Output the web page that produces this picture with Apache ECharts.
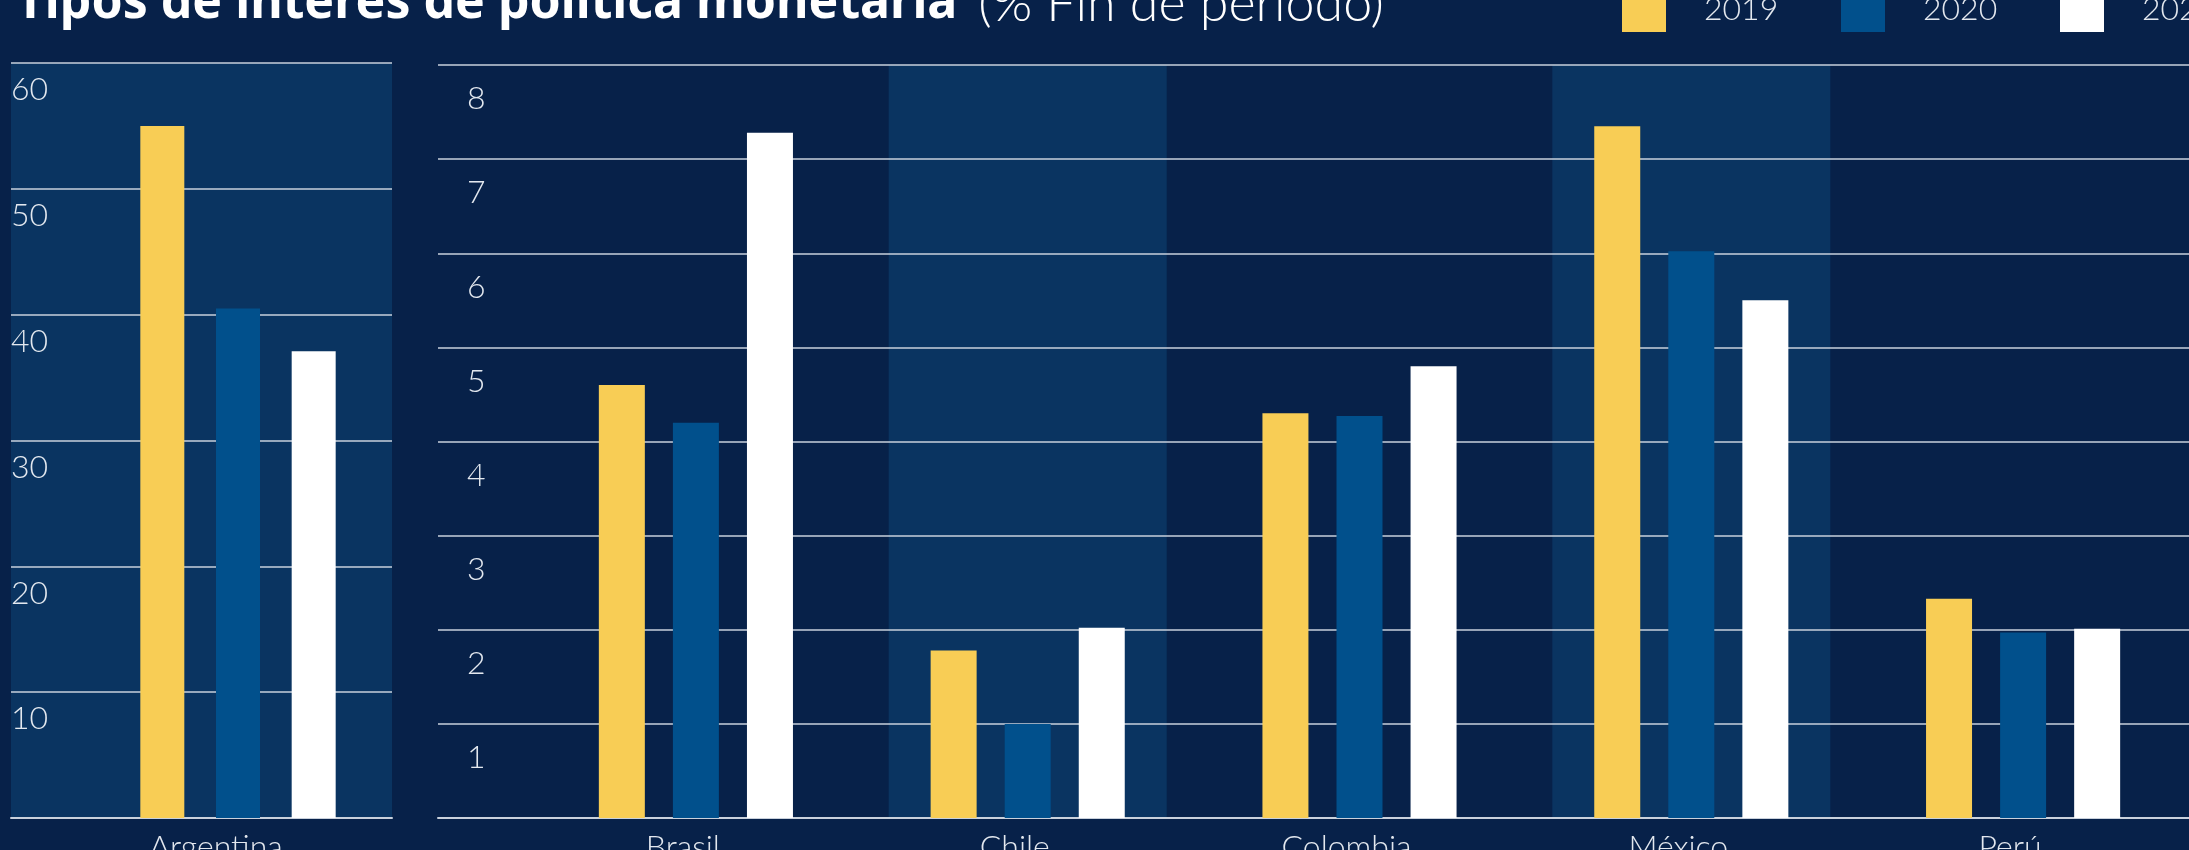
<!DOCTYPE html>
<html lang="es">
<head>
    <meta charset="UTF-8">
    <title>Tipos de interés de política monetaria</title>
    <script src="https://cdn.jsdelivr.net/npm/echarts@6/dist/echarts.min.js"></script>
    <style>
        * {
            margin: 0;
            padding: 0
        }

        html, body {
            width: 100%;
            height: 100%;
            background: #072149;
        }

        #main {
            width: 2189px;
            height: 850px;
        }
    </style>
</head>
<body>
    <div id="main"></div>
</body>
<script type="text/javascript">
    /*-------------------- datos -----------------------------*/
    var years = ['2019', '2020', '2021'];
    var leftCountries = ['Argentina'];
    var rightCountries = ['Brasil', 'Chile', 'Colombia', 'México', 'Perú'];

    // Argentina, un valor por año
    var argentina = [55, 40.5, 37.1];

    // resto de países, una lista por año
    var rate2019 = [4.6, 1.78, 4.3, 7.35, 2.33];
    var rate2020 = [4.2, 1.0, 4.27, 6.02, 1.97];
    var rate2021 = [7.28, 2.02, 4.8, 5.5, 2.01];

    // países con franja sombreada
    var shaded = [false, true, false, true, false];

    var leftMax = 60, leftStep = 10;
    var rightMax = 8, rightStep = 1;

    var colors = ['#f8cd55', '#01508c', '#ffffff'];
    var bg = '#072149';
    var panel = '#0a3461';
    var gridColor = '#c9d1dc';
    var textColor = '#e3e8ef';
    var lightFont = 'Lato';

    var chart = echarts.init(document.getElementById('main'));

    var rightSeries = [rate2019, rate2020, rate2021];

    var series = [];
    // Argentina
    years.forEach(function (y, i) {
        series.push({
            name: y,
            type: 'bar',
            xAxisIndex: 1,
            yAxisIndex: 1,
            barWidth: 44,
            barGap: '72%',
            itemStyle: {color: colors[i]},
            z: 2,
            data: [argentina[i]]
        });
    });
    // franjas sombreadas (Chile, México)
    series.push({
        name: 'franja',
        type: 'bar',
        xAxisIndex: 4,
        yAxisIndex: 3,
        barWidth: 278,
        silent: true,
        itemStyle: {color: panel},
        z: 0,
        data: shaded.map(function (s) { return s ? rightMax : '-'; })
    });
    // resto
    years.forEach(function (y, i) {
        series.push({
            name: y,
            type: 'bar',
            xAxisIndex: 3,
            yAxisIndex: 3,
            barWidth: 46,
            barGap: '61%',
            itemStyle: {color: colors[i]},
            z: 2,
            data: rightSeries[i]
        });
    });

    var yLabel = function (pad) {
        return {
            inside: true,
            margin: 0,
            showMinLabel: false,
            verticalAlign: 'top',
            padding: [pad, 0, 0, 0],
            color: textColor,
            fontFamily: lightFont,
            fontWeight: 300,
            fontSize: 32
        };
    };

    // una leyenda por año para fijar cada posición
    var legendLeft = [1617, 1836, 2055];
    var legends = years.map(function (y, i) {
        return {
            data: [y],
            left: legendLeft[i],
            top: -17,
            icon: 'rect',
            itemWidth: 44,
            itemHeight: 44,
            textStyle: {
                color: textColor,
                fontFamily: lightFont,
                fontWeight: 300,
                fontSize: 32,
                padding: [0, 0, 0, 33]
            }
        };
    });

    var gridBase = {outerBoundsMode: 'none', containLabel: false};

    chart.setOption({
        backgroundColor: bg,
        animation: false,
        title: {
            text: '{b|Tipos de interés de política monetaria}{l|(% Fin de período)}',
            left: 11,
            top: -27,
            textStyle: {
                rich: {
                    b: {fontFamily: 'Noto Sans', fontWeight: 'bold', fontSize: 50, color: '#ffffff'},
                    l: {fontFamily: lightFont, fontWeight: 300, fontSize: 52, color: '#ffffff', padding: [0, 0, 0, 21]}
                }
            }
        },
        legend: legends,
        grid: [
            // 0: panel Argentina (fondo, ejes)
            Object.assign({left: 11, width: 381, top: 63, bottom: 32, show: true, backgroundColor: panel, borderWidth: 0}, gridBase),
            // 1: barras Argentina
            Object.assign({left: 84, width: 308, top: 63, bottom: 32}, gridBase),
            // 2: panel derecho (ejes)
            Object.assign({left: 438, right: 0, top: 65, bottom: 32}, gridBase),
            // 3: barras resto
            Object.assign({left: 530, right: 0, top: 65, bottom: 32}, gridBase)
        ],
        xAxis: [
            {
                gridIndex: 0, type: 'category', data: leftCountries,
                axisLine: {lineStyle: {color: gridColor, width: 2}},
                axisTick: {show: false},
                axisLabel: {
                    margin: 14, padding: [0, 0, 0, 29],
                    color: textColor, fontFamily: lightFont, fontWeight: 300, fontSize: 32
                },
                z: 1
            },
            {gridIndex: 1, type: 'category', data: leftCountries, show: false},
            {
                gridIndex: 2, type: 'category', data: rightCountries,
                axisLine: {lineStyle: {color: gridColor, width: 2}},
                axisTick: {show: false},
                axisLabel: {show: false},
                z: 1
            },
            {
                gridIndex: 3, type: 'category', data: rightCountries,
                axisLine: {show: false},
                axisTick: {show: false},
                axisLabel: {
                    margin: 14, padding: [0, 26, 0, 0],
                    color: textColor, fontFamily: lightFont, fontWeight: 300, fontSize: 32
                }
            },
            {gridIndex: 3, type: 'category', data: rightCountries, show: false}
        ],
        yAxis: [
            {
                gridIndex: 0, type: 'value', min: 0, max: leftMax, interval: leftStep,
                axisLine: {show: false}, axisTick: {show: false},
                axisLabel: yLabel(11),
                splitLine: {lineStyle: {color: gridColor, width: 1.5}},
                z: 1
            },
            {gridIndex: 1, type: 'value', min: 0, max: leftMax, show: false, splitLine: {show: false}},
            {
                gridIndex: 2, type: 'value', min: 0, max: rightMax, interval: rightStep,
                axisLine: {show: false}, axisTick: {show: false},
                axisLabel: Object.assign(yLabel(18), {margin: 29}),
                splitLine: {lineStyle: {color: gridColor, width: 1.5}},
                z: 1
            },
            {gridIndex: 3, type: 'value', min: 0, max: rightMax, show: false, splitLine: {show: false}}
        ],
        series: series
    });
</script>
</html>
